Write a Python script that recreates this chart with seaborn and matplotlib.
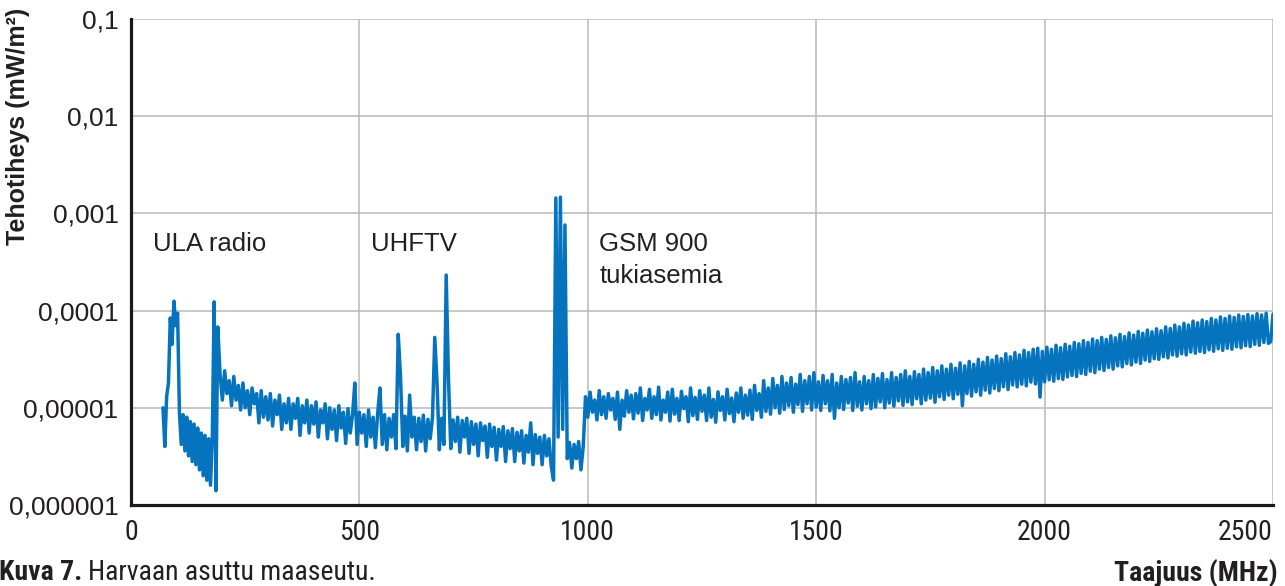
import numpy as np
import pandas as pd
import matplotlib
matplotlib.use("Agg")
import matplotlib.pyplot as plt
from matplotlib.ticker import NullLocator
import seaborn as sns

# ---------------- data (power density in nW/m2 = 1e-6 mW/m2) ----------------
# ULA radio / VHF part, 70 ... 190 MHz, 4 MHz sweep step
ula_start, ula_stop, ula_step = 70, 190, 4
ula_nW = [10, 4.0, 13, 18, 84, 45, 125, 70, 94, 9, 4.2, 8.5, 3.6, 8.0, 3.2,
          7.2, 2.8, 6.8, 2.6, 6.2, 2.3, 5.5, 2.0, 5.2, 1.8, 4.8, 1.6, 5.0,
          123, 1.4, 68]

# 195 ... 990 MHz (UHF TV + GSM 900), 5 MHz sweep step
mid_start, mid_stop, mid_step = 195, 990, 5
mid_nW = [22, 12, 24, 14, 19, 10.5, 21, 12, 17, 9.5,
          18, 10, 15, 8.5, 16, 11, 14, 7, 15, 8,
          13, 7.5, 14, 6.5, 12, 8.5, 13.5, 6, 11, 7,
          12.5, 6, 11, 7.8, 12.5, 5.2, 10.5, 7, 12, 5.5,
          10.5, 6.8, 11.5, 5, 9.5, 7, 11, 4.8, 10, 6,
          9.5, 4.6, 10.5, 6.2, 9, 4.3, 9.8, 5.5, 8.5, 18,
          4.2, 9, 5.5, 8.5, 4, 9.5, 5, 8, 3.9, 8.8,
          16, 4.2, 8.5, 3.7, 7.8, 5, 8.5, 3.8, 57, 21,
          4, 8.2, 3.6, 13.5, 5, 8, 3.7, 7.8, 4.5, 8.4,
          3.6, 7.6, 4.8, 8, 53, 18, 3.7, 7.8, 4.2, 232,
          20, 3.8, 7.5, 4.5, 8, 3.5, 7.4, 5, 7.8, 3.4,
          7.2, 4.2, 6.8, 3.2, 7, 4.6, 6.5, 3.1, 6.8, 4,
          6.3, 2.9, 6, 4, 6.4, 2.8, 5.8, 3.8, 6.1, 2.8,
          5.6, 3.6, 5.8, 2.7, 5.2, 3.5, 7, 2.6, 5.3, 3.4,
          5, 2.6, 5.2, 3.2, 4.8, 2.5, 1.8, 1440, 5, 1470,
          6, 760, 3, 4.4, 2.4, 4.2, 3, 4.5, 2.3, 4]

# 995 ... 2510 MHz, 5 MHz sweep step
high_start, high_stop, high_step = 995, 2510, 5
high_nW = [13, 8, 14.5, 9, 12, 7.5, 15, 8.5, 13, 7.8,
           14, 9.5, 12.5, 7.6, 14.5, 6, 12, 8.2, 15, 9,
           13.5, 7.7, 14, 8.8, 16, 7.4, 12.5, 9.5, 15.5, 7.8,
           13, 8.5, 16.3, 7.5, 12, 9, 14.5, 7.3, 15.5, 8.6,
           12.5, 7.4, 14.8, 9.8, 13, 7.2, 16, 8.3, 12.8, 7.6,
           15, 9.2, 13.5, 7.4, 16, 8, 12.2, 7.1, 14.6, 9.4,
           13, 7.5, 15.5, 8.7, 12.6, 7.2, 14.2, 9, 16, 7.8,
           13.5, 8.4, 15.2, 7.6, 17, 9.4, 14, 8, 19, 9.2,
           16, 8.6, 20, 10, 17, 8.8, 21, 9.6, 18, 10.5,
           20.5, 9, 17.5, 10.8, 22, 9.2, 19, 11, 21, 9.5,
           23, 10.2, 18.5, 9.4, 21.5, 11, 19, 9.3, 22, 7.8,
           18, 10, 21, 9.6, 19.5, 11.2, 20.5, 9.4, 23, 10.4,
           18.5, 9.5, 21, 11, 19, 9.8, 22, 10.2, 20, 11.5,
           22.5, 10, 19.5, 11.2, 23, 10.4, 20.5, 11.8, 22, 10.6,
           24, 11.5, 21, 10.8, 23.5, 12.4, 22, 11, 25, 12,
           23, 12.6, 26, 11.4, 24, 13, 27, 12.2, 25, 13.5,
           28, 12.4, 25.5, 13.8, 29, 10.5, 27, 14, 30, 13.2,
           28, 14.6, 31.5, 13.5, 29.5, 15.2, 33, 14.2, 31, 15.8,
           34, 15, 32, 16.5, 36, 15.4, 33.5, 17.2, 37, 16.4,
           35, 17.5, 39, 16.8, 37, 18.4, 40, 17.6, 41, 12.9,
           38, 18.5, 42, 19.4, 40, 18.8, 44, 20, 41.5, 19.6,
           45, 20.8, 43, 21.5, 47, 21, 45.5, 22.6, 49, 22,
           47, 23.8, 51, 23, 49, 25, 53, 24.2, 50.5, 26,
           55, 25, 52.5, 27, 57, 26.4, 54, 28.5, 59, 27.6,
           56, 29.5, 61, 28.6, 58.5, 31, 63, 30, 60.5, 32,
           65, 31.5, 62, 33.5, 68, 32.6, 65.5, 35, 71, 34,
           68, 36, 74, 35, 71, 37.5, 78, 36.4, 75, 38,
           80, 37, 77, 39.5, 83, 38.2, 80, 40.5, 86, 39,
           83, 41, 88, 40, 85, 42.5, 90, 41.4, 87, 43.5,
           91, 42.6, 88, 45, 93, 44, 90, 47, 94, 46,
           48, 92, 50, 55]

ytick_vals = [1e-6, 1e-5, 1e-4, 1e-3, 1e-2, 1e-1]
ytick_labels = ["0,000001", "0,00001", "0,0001", "0,001", "0,01", "0,1"]
xtick_vals = [0, 500, 1000, 1500, 2000, 2500]
xtick_labels = ["0", "500", "1000", "1500", "2000", "2500"]

band_labels = ["ULA radio", "UHFTV", "GSM 900\ntukiasemia"]
band_label_x = [48, 526, 1025]            # MHz
band_label_y = [6.5e-4, 6.5e-4, 6.5e-4]   # mW/m2 (top of text)

caption_bold = "Kuva 7."
caption_text = "Harvaan asuttu maaseutu."
xlabel_text = "Taajuus (MHz)"
ylabel_text = "Tehotiheys (mW/m²)"

# ---------------- build table ----------------
freq = np.concatenate([
    np.arange(ula_start, ula_stop + 1, ula_step),
    np.arange(mid_start, mid_stop + 1, mid_step),
    np.arange(high_start, high_stop + 1, high_step),
])
dens_mW = np.array(ula_nW + mid_nW + high_nW) * 1e-6
assert len(freq) == len(dens_mW), (len(freq), len(dens_mW))
df = pd.DataFrame({"Taajuus": freq, "Tehotiheys": dens_mW})

# ---------------- style ----------------
sns.set_theme(style="white")
plt.rcParams["font.family"] = ["Liberation Sans", "DejaVu Sans"]
NARROW = ["Liberation Sans Narrow", "Roboto Condensed", "DejaVu Sans Condensed",
          "Liberation Sans"]
LINE = "#0573BD"
GRID = "#b9b9bb"
TXT = "#231f20"

W, H = 1285, 586
fig = plt.figure(figsize=(W / 100, H / 100), dpi=100)
ax = fig.add_axes([131 / W, 1 - 505 / H, (1273 - 131) / W, (505 - 19) / H])

sns.lineplot(data=df, x="Taajuus", y="Tehotiheys", estimator=None, sort=False,
             color=LINE, linewidth=2.5, ax=ax, zorder=3)

ax.set_yscale("log")
ax.set_ylim(1e-6, 1e-1)
ax.set_xlim(0, 2500)
ax.yaxis.set_minor_locator(NullLocator())
ax.set_yticks(ytick_vals)
ax.set_yticklabels(ytick_labels, fontsize=19, color=TXT)
ax.set_xticks(xtick_vals)
ax.set_xticklabels(xtick_labels, fontsize=20, color=TXT, family=NARROW,
                   stretch="condensed")
ax.get_xticklabels()[-1].set_ha("right")
ax.tick_params(axis="both", length=0)
ax.tick_params(axis="y", pad=9)
ax.tick_params(axis="x", pad=10)
ax.set_xlabel("")
ax.set_ylabel("")

ax.grid(True, color=GRID, linewidth=1.1)
ax.set_axisbelow(True)
for s in ["top", "right"]:
    ax.spines[s].set_visible(False)
for s in ["left", "bottom"]:
    ax.spines[s].set_color("#1a1a1a")
    ax.spines[s].set_linewidth(2.3)
    ax.spines[s].set_zorder(4)

for lbl, lx, ly in zip(band_labels, band_label_x, band_label_y):
    ax.text(lx, ly, lbl, fontsize=18.5, color=TXT, ha="left", va="top",
            linespacing=1.42, zorder=5)

fig.text(18 / W, 1 - 8 / H, ylabel_text, rotation=90, ha="center", va="top",
         fontsize=18, fontweight="bold", color=TXT)

t1 = fig.text(-1 / W, 1 - 573 / H, caption_bold, ha="left", va="center",
              fontsize=20, fontweight="bold", color=TXT, family=NARROW,
              stretch="condensed")
fig.text(1278 / W, 1 - 573 / H, xlabel_text, ha="right", va="center",
         fontsize=20, fontweight="bold", color=TXT, family=NARROW,
         stretch="condensed")
fig.canvas.draw()
bb = t1.get_window_extent()
fig.text((bb.x1 + 6) / W, 1 - 573 / H, caption_text, ha="left", va="center",
         fontsize=20, color=TXT, family=NARROW, stretch="condensed")

fig.savefig("out.png", dpi=100)
